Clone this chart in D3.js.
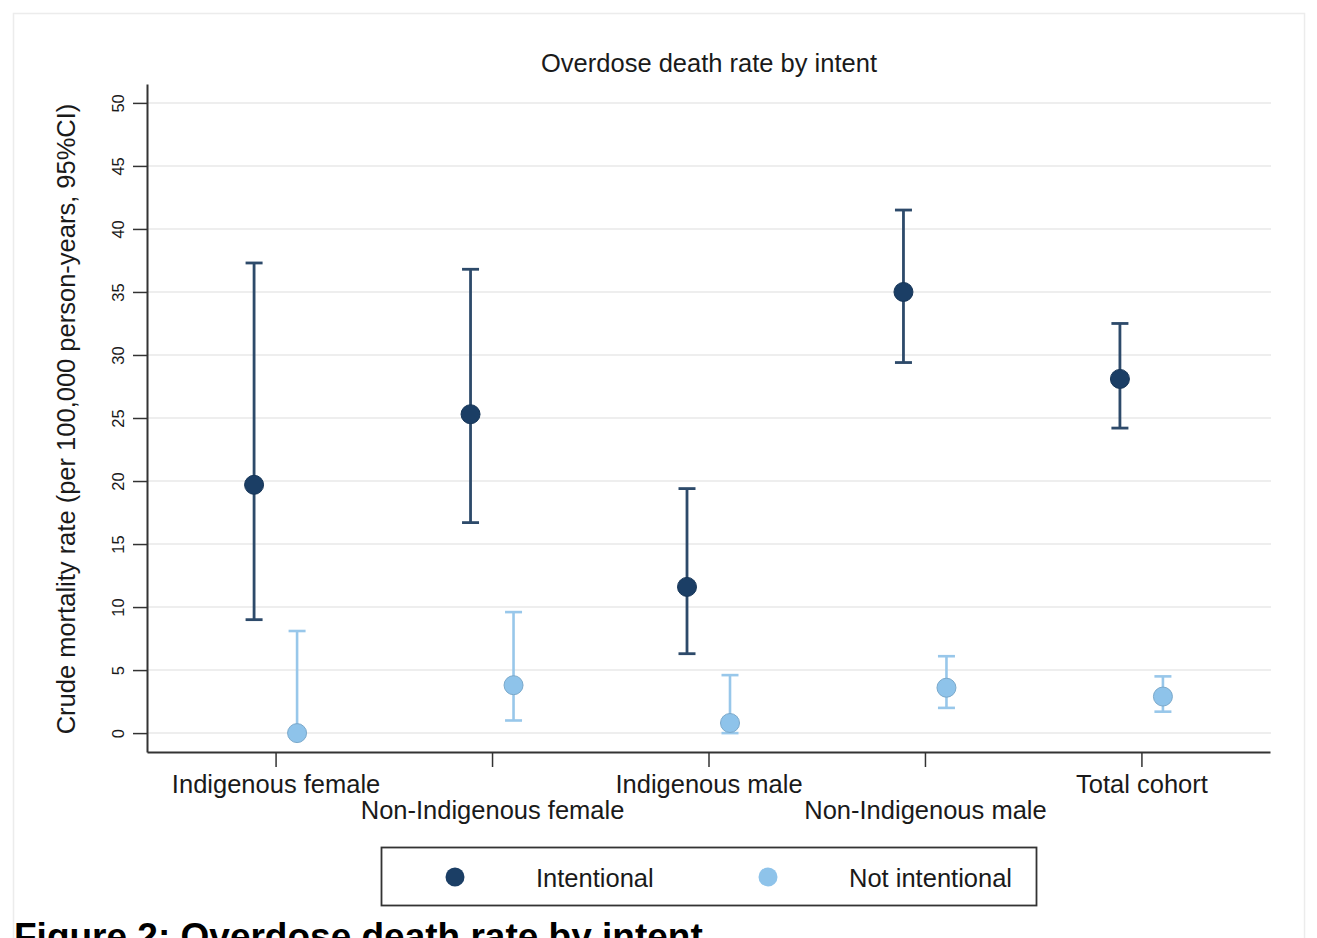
<!DOCTYPE html>
<html>
<head>
<meta charset="utf-8">
<script src="https://cdn.jsdelivr.net/npm/d3@7"></script>
<style>
body{margin:0;background:#fff;}
text{font-family:"Liberation Sans",Arial,Helvetica,sans-serif;fill:#1a1a1a;}
</style>
</head>
<body>
<script>
var w = 1317;
var h = 938;

// data
var categories = ["Indigenous female","Non-Indigenous female","Indigenous male","Non-Indigenous male","Total cohort"];
var intentRate = [19.7, 25.3, 11.6, 35.0, 28.1];
var intentLo   = [9.0, 16.7, 6.3, 29.4, 24.2];
var intentHi   = [37.3, 36.8, 19.4, 41.5, 32.5];
var notRate    = [0.0, 3.8, 0.8, 3.6, 2.9];
var notLo      = [0.0, 1.0, 0.0, 2.0, 1.7];
var notHi      = [8.1, 9.6, 4.6, 6.1, 4.5];
var yTicks     = [0,5,10,15,20,25,30,35,40,45,50];
var seriesNames = ["Intentional","Not intentional"];

var darkFill = "#1b3e65", darkLine = "#2d4a6a";
var lightFill = "#8ec3ea", lightLine = "#98c7ea";

var svg = d3.select("body")
            .append("svg")
            .attr("width",w)
            .attr("height",h);

// faint outer frame of the figure
svg.append("rect")
    .attr("x",13.5).attr("y",13.5)
    .attr("width",1291).attr("height",h)
    .attr("fill","none")
    .attr("stroke","#ececec")
    .attr("stroke-width",1.5);

var plotLeft = 147, plotRight = 1270, plotTop = 84, plotBottom = 752;

var x = d3.scalePoint()
    .domain(categories)
    .range([plotLeft,plotRight])
    .padding(0.594);

var y = d3.scaleLinear()
    .domain([-1.5,51.5])
    .range([plotBottom,plotTop]);

var off = 21.5;

/**** gridlines ****/
svg.append("g")
    .selectAll("line")
    .data(yTicks)
    .enter()
    .append("line")
    .attr("x1",plotLeft).attr("x2",plotRight+1)
    .attr("y1",function(d){return y(d);})
    .attr("y2",function(d){return y(d);})
    .attr("stroke","#e8e8e8")
    .attr("stroke-width",1.5);

/**** y axis ****/
var yAxis = svg.append("g")
    .attr("transform","translate("+plotLeft+",0)")
    .call(d3.axisLeft(y).tickValues(yTicks).tickSize(14).tickSizeOuter(0));
yAxis.select(".domain").attr("stroke","#333").attr("stroke-width",2);
yAxis.selectAll(".tick line").attr("stroke","#333").attr("stroke-width",1.5);
yAxis.selectAll(".tick text")
    .attr("x",0).attr("y",0).attr("dy",null)
    .attr("transform","translate(-23,0) rotate(-90)")
    .attr("text-anchor","middle")
    .attr("font-size","16.5px")
    .attr("font-family","Liberation Sans, Arial, sans-serif")
    .attr("fill","#222");

/**** x axis ****/
var xAxis = svg.append("g")
    .attr("transform","translate(0,"+plotBottom+")")
    .call(d3.axisBottom(x).tickSize(15).tickSizeOuter(0));
xAxis.select(".domain").attr("stroke","#333").attr("stroke-width",2);
xAxis.selectAll(".tick line").attr("stroke","#333").attr("stroke-width",1.5);
xAxis.selectAll(".tick text")
    .attr("y",function(d,i){return i%2==0 ? 41 : 67;})
    .attr("dy",null)
    .attr("font-size","25.5px")
    .attr("font-family","Liberation Sans, Arial, sans-serif")
    .attr("fill","#1a1a1a");

/**** error bars ****/
function drawSeries(rate,lo,hi,dx,lineCol,fillCol,lw){
    var g = svg.append("g");
    g.selectAll(".v")
        .data(categories)
        .enter()
        .append("line")
        .attr("x1",function(d){return x(d)+dx;})
        .attr("x2",function(d){return x(d)+dx;})
        .attr("y1",function(d,i){return y(lo[i]);})
        .attr("y2",function(d,i){return y(hi[i]);})
        .attr("stroke",lineCol)
        .attr("stroke-width",lw);
    [lo,hi].forEach(function(arr){
        g.selectAll(null)
            .data(categories)
            .enter()
            .append("line")
            .attr("x1",function(d){return x(d)+dx-8.5;})
            .attr("x2",function(d){return x(d)+dx+8.5;})
            .attr("y1",function(d,i){return y(arr[i]);})
            .attr("y2",function(d,i){return y(arr[i]);})
            .attr("stroke",lineCol)
            .attr("stroke-width",lw);
    });
    g.selectAll("circle")
        .data(categories)
        .enter()
        .append("circle")
        .attr("cx",function(d){return x(d)+dx;})
        .attr("cy",function(d,i){return y(rate[i]);})
        .attr("r",9.5)
        .attr("fill",fillCol)
        .attr("stroke",d3.color(fillCol).darker(0.4))
        .attr("stroke-width",1);
}
drawSeries(intentRate,intentLo,intentHi,-off,darkLine,darkFill,2.8);
drawSeries(notRate,notLo,notHi,off,lightLine,lightFill,2.6);

/**** titles ****/
svg.append("text")
    .text("Overdose death rate by intent")
    .attr("x",709).attr("y",72)
    .attr("text-anchor","middle")
    .attr("font-size","25.5px");

svg.append("text")
    .text("Crude mortality rate (per 100,000 person-years, 95%CI)")
    .attr("transform","translate(75,419) rotate(-90)")
    .attr("text-anchor","middle")
    .attr("font-size","25.5px");

/**** legend ****/
var leg = svg.append("g");
leg.append("rect")
    .attr("x",381.5).attr("y",847.5)
    .attr("width",655).attr("height",58)
    .attr("fill","#fff")
    .attr("stroke","#333")
    .attr("stroke-width",1.8);
var legX = [455,768];
var legFill = [darkFill,lightFill];
leg.selectAll("circle")
    .data(seriesNames)
    .enter()
    .append("circle")
    .attr("cx",function(d,i){return legX[i];})
    .attr("cy",877)
    .attr("r",9.5)
    .attr("fill",function(d,i){return legFill[i];});
leg.selectAll("text")
    .data(seriesNames)
    .enter()
    .append("text")
    .text(function(d){return d;})
    .attr("x",function(d,i){return legX[i]+81;})
    .attr("y",887)
    .attr("font-size","25.5px");

/**** caption ****/
svg.append("text")
    .text("Figure 2: Overdose death rate by intent")
    .attr("x",14).attr("y",949)
    .attr("font-size","37px")
    .attr("font-weight","bold")
    .style("fill","#000");
</script>
</body>
</html>
